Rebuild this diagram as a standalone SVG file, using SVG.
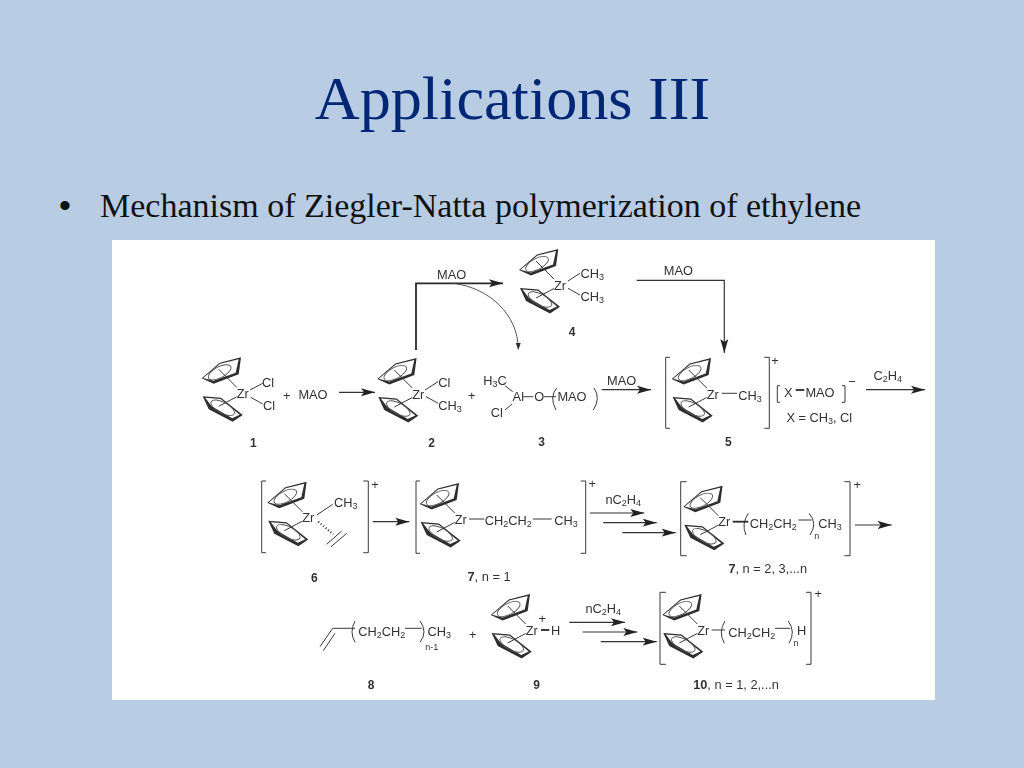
<svg xmlns="http://www.w3.org/2000/svg" xmlns:xlink="http://www.w3.org/1999/xlink" width="1024" height="768" viewBox="0 0 1024 768">
<style>
.t{font-family:"Liberation Sans",Arial,sans-serif;font-size:12.8px;fill:#333;text-anchor:middle}
.b{font-weight:bold;font-size:12px}
.s{font-size:9px}
.l{stroke:#3a3a3a;stroke-width:1;fill:none}
.k{stroke:#2a2a2a;stroke-width:2.2;fill:none}
.a{stroke:#333;stroke-width:1.2;fill:none;marker-end:url(#ah)}
</style>
<defs>
<marker id="ah" markerUnits="userSpaceOnUse" markerWidth="16" markerHeight="10" refX="14" refY="5" orient="auto"><path d="M0,1 L14,5 L0,9 L3,5 Z" fill="#222"/></marker>
<marker id="ahs" markerUnits="userSpaceOnUse" markerWidth="8" markerHeight="10" refX="6" refY="3" orient="auto"><path d="M0,0.5 L7,3 L0,5.5 Z" fill="#333"/></marker>
<filter id="soft" x="-2%" y="-2%" width="104%" height="104%"><feGaussianBlur stdDeviation="0.35"/></filter>
<g id="zc">
<path d="M-41,-15 L-23,-30.500 L-1.700,-36 L-4,-19 L-29,-9.500 Z" fill="#2e2e2e"/>
<path d="M-39.500,-15.200 L-22.500,-29.500 L-4,-34 L-7,-20.500 L-29,-12.500 Z" fill="#fff"/>
<ellipse cx="-23" cy="-21" rx="12.500" ry="5.500" transform="rotate(-28 -23 -21)" fill="none" stroke="#555" stroke-width="0.9"/>
<path d="M-40,3 L-21.700,4.500 L0,21.700 L-10,28.500 L-34,16 Z" fill="#2e2e2e"/>
<path d="M-37.500,4.500 L-22,5.800 L-3,21.500 L-10.500,25 L-31,13 Z" fill="#fff"/>
<ellipse cx="-20" cy="14.500" rx="13" ry="5.500" transform="rotate(28 -20 14.500)" fill="none" stroke="#555" stroke-width="0.9"/>
<path class="l" d="M-24,-24 L-6,-6 M-24,13 L-6,3.500"/>
<text class="t" x="0" y="4.500">Zr</text>
</g>
</defs>
<rect width="1024" height="768" fill="#b8cce4"/>
<text x="512.500" y="118.500" font-family="'Liberation Serif','Times New Roman',serif" font-size="62.200" fill="#002776" text-anchor="middle">Applications III</text>
<text x="59" y="217" font-family="'Liberation Sans',Arial,sans-serif" font-size="34" fill="#111">•</text>
<text x="100" y="217" font-family="'Liberation Serif','Times New Roman',serif" font-size="34" fill="#111">Mechanism of Ziegler-Natta polymerization of ethylene</text>
<rect id="panel" x="112" y="240" width="823" height="460" fill="#fff"/>
<g filter="url(#soft)">
<g id="connectors">
<path class="a" d="M339,392.300H375"/>
<path d="M416,350V283.300H503" fill="none" stroke="#2a2a2a" stroke-width="1.800" marker-end="url(#ah)"/>
<path d="M453.300,283.300C490,288 518,315 518.300,349" fill="none" stroke="#444" stroke-width="0.900" marker-end="url(#ahs)"/>
<path class="a" d="M636.700,280.300H724.300V353"/>
<path class="a" d="M601.700,389.700H651"/>
<path class="a" d="M866,389.700H925"/>
<path class="a" d="M372.700,521.700H409.300"/>
<path class="a" d="M590,513H644.300"/>
<path class="a" d="M603.300,522.700H656.700"/>
<path class="a" d="M622.300,532.700H675.700"/>
<path class="a" d="M855,525H891.700"/>
<path class="a" d="M569.300,622.300H625"/>
<path class="a" d="M582.700,632H637.300"/>
<path class="a" d="M600.700,641.700H656.700"/>
</g>
<g id="n1"><use href="#zc" xlink:href="#zc" x="242.700" y="393.300"/>
<path class="l" d="M250,390L262.700,383.300M250.700,397.300L262.700,404"/>
<text class="t" x="268" y="387">Cl</text><text class="t" x="269" y="409.500">Cl</text>
<text class="t b" x="253.300" y="447">1</text></g>
<g id="plus-mao"><text class="t" x="286.700" y="400">+</text><text class="t" x="313" y="399">MAO</text></g>
<g id="n2"><use href="#zc" xlink:href="#zc" x="418.300" y="394"/>
<path class="l" d="M425,390L438,381.700M426,396.700L438.300,403.300"/>
<text class="t" x="444.300" y="387">Cl</text><text class="t" x="450" y="410">CH<tspan class="s" dy="2">3</tspan></text>
<text class="t b" x="431.700" y="446.500">2</text></g>
<g id="plus2"><text class="t" x="471.700" y="400">+</text></g>
<g id="n3">
<text class="t" x="495" y="385">H<tspan class="s" dy="2">3</tspan><tspan dy="-2">C</tspan></text>
<text class="t" x="518.300" y="401">Al</text><text class="t" x="539.300" y="401">O</text>
<text class="t" x="572" y="401">MAO</text><text class="t" x="496.700" y="416.500">Cl</text>
<path class="l" d="M505,385.700L512.700,391.700M523.300,396.700H533.300M544,396.700H556M505,410L512,404M556.700,388Q549,397 556,410M594,388Q601,398 593.300,410"/>
<text class="t b" x="541.700" y="445.500">3</text></g>
<g id="n4"><use href="#zc" xlink:href="#zc" x="560" y="285"/>
<path class="l" d="M568,281L580,273.300M568,288.300L580,295"/>
<text class="t" x="592.300" y="277.500">CH<tspan class="s" dy="2">3</tspan></text><text class="t" x="592.300" y="301">CH<tspan class="s" dy="2">3</tspan></text>
<text class="t b" x="572" y="336">4</text></g>
<g id="labels1">
<text class="t" x="451.700" y="278.500">MAO</text><text class="t" x="678.300" y="275">MAO</text>
<text class="t" x="621.700" y="384.500">MAO</text>
<text class="t" x="887.700" y="380">C<tspan class="s" dy="2">2</tspan><tspan dy="-2">H</tspan><tspan class="s" dy="2">4</tspan></text>
</g>
<g id="n5"><use href="#zc" xlink:href="#zc" x="712.700" y="394"/>
<path class="l" d="M670,357.300H665.700V428.300H670M764.300,357.300H769.300V428.300H764.300M722,393.300H737"/>
<text class="t" x="775" y="364.500">+</text>
<text class="t" x="750" y="399.500">CH<tspan class="s" dy="2">3</tspan></text>
<text class="t b" x="728.300" y="446">5</text></g>
<g id="n5x">
<path class="l" d="M780,385.700H777.300V402.300H780M842,385.700H845V402.300H842"/>
<path d="M795.700,390H804.300" stroke="#2a2a2a" stroke-width="1.800"/>
<text class="t" x="788.300" y="396.700">X</text><text class="t" x="820" y="396.700">MAO</text>
<text class="t" x="852" y="386">−</text>
<text class="t" x="819.300" y="422">X = CH<tspan class="s" dy="2">3</tspan><tspan dy="-2">, Cl</tspan></text></g>
<g id="n6"><use href="#zc" xlink:href="#zc" x="308.300" y="517.700"/>
<path class="l" d="M266,481H261.700V552.700H266M363.300,481H368.300V552.700H363.300M316.700,515L332.700,504.300M326.700,544.300L341.700,531M331,546.700L346.700,533.300"/>
<path d="M318.300,521.700L333.300,534.300" stroke="#3a3a3a" stroke-width="2.200" stroke-dasharray="1 2.200" fill="none"/>
<text class="t" x="375" y="489">+</text>
<text class="t" x="345.700" y="507">CH<tspan class="s" dy="2">3</tspan></text>
<text class="t b" x="314.300" y="581.500">6</text></g>
<g id="n7a"><use href="#zc" xlink:href="#zc" x="460.700" y="519"/>
<path class="l" d="M420,481H416V553.300H420M580.700,481H585.700V553.300H580.700M469,519H484.300M533,519H551.700"/>
<text class="t" x="592.300" y="487.500">+</text>
<text class="t" x="508.300" y="525">CH<tspan class="s" dy="2">2</tspan><tspan dy="-2">CH</tspan><tspan class="s" dy="2">2</tspan></text>
<text class="t" x="566" y="525">CH<tspan class="s" dy="2">3</tspan></text>
<text class="t" x="489" y="581"><tspan font-weight="bold">7</tspan>, n = 1</text></g>
<g id="n7b"><use href="#zc" xlink:href="#zc" x="724.300" y="521.700"/>
<path class="l" d="M686.700,481.700H680.700V555.700H686.700M844.300,481.700H850V555.700H844.300M798.300,520H811.700M748.300,513.300Q741,524 746,535M809,513.300Q818,523 810,535"/>
<path d="M732.700,521.700H748.300" stroke="#2a2a2a" stroke-width="1.800"/>
<text class="t" x="857.300" y="488.500">+</text>
<text class="t" x="623.300" y="504">nC<tspan class="s" dy="2">2</tspan><tspan dy="-2">H</tspan><tspan class="s" dy="2">4</tspan></text>
<text class="t" x="773.300" y="527.500">CH<tspan class="s" dy="2">2</tspan><tspan dy="-2">CH</tspan><tspan class="s" dy="2">2</tspan></text>
<text class="t s" x="816.700" y="539">n</text>
<text class="t" x="830" y="527.500">CH<tspan class="s" dy="2">3</tspan></text>
<text class="t" x="767.700" y="573"><tspan font-weight="bold">7</tspan>, n = 2, 3,...n</text></g>
<g id="n8">
<path class="l" d="M320,646.700L332.700,628.300M323.300,650.700L335,633.300M332.700,628.300H355M405,628.300H421.700M355,621Q349,632 355,642.300M420,621Q428,632 420,642.300"/>
<text class="t" x="381.700" y="636">CH<tspan class="s" dy="2">2</tspan><tspan dy="-2">CH</tspan><tspan class="s" dy="2">2</tspan></text>
<text class="t" x="439.300" y="636">CH<tspan class="s" dy="2">3</tspan></text>
<text class="t s" x="431.700" y="649.500">n-1</text>
<text class="t b" x="371" y="688.500">8</text></g>
<g id="plus3"><text class="t" x="472.700" y="639">+</text></g>
<g id="n9"><use href="#zc" xlink:href="#zc" x="531.700" y="630"/>
<path d="M541,630H549.300" stroke="#2a2a2a" stroke-width="1.800"/>
<text class="t" x="542.300" y="623">+</text><text class="t" x="555.700" y="634.500">H</text>
<text class="t" x="603.300" y="613">nC<tspan class="s" dy="2">2</tspan><tspan dy="-2">H</tspan><tspan class="s" dy="2">4</tspan></text>
<text class="t b" x="536.700" y="689">9</text></g>
<g id="n10"><use href="#zc" xlink:href="#zc" x="703.300" y="630"/>
<path class="l" d="M666,592.300H660V664.300H666M806,592.300H811V664.300H806M711.700,630H725M775,628.300H790M725,621Q718,632 724.300,643.300M788.300,621Q796,632 789,643.300"/>
<text class="t" x="818.300" y="598">+</text>
<text class="t" x="751.700" y="636.500">CH<tspan class="s" dy="2">2</tspan><tspan dy="-2">CH</tspan><tspan class="s" dy="2">2</tspan></text>
<text class="t s" x="796" y="645.500">n</text><text class="t" x="801.700" y="634.500">H</text>
<text class="t" x="736" y="689"><tspan font-weight="bold">10</tspan>, n = 1, 2,...n</text></g>
</g>
</svg>
